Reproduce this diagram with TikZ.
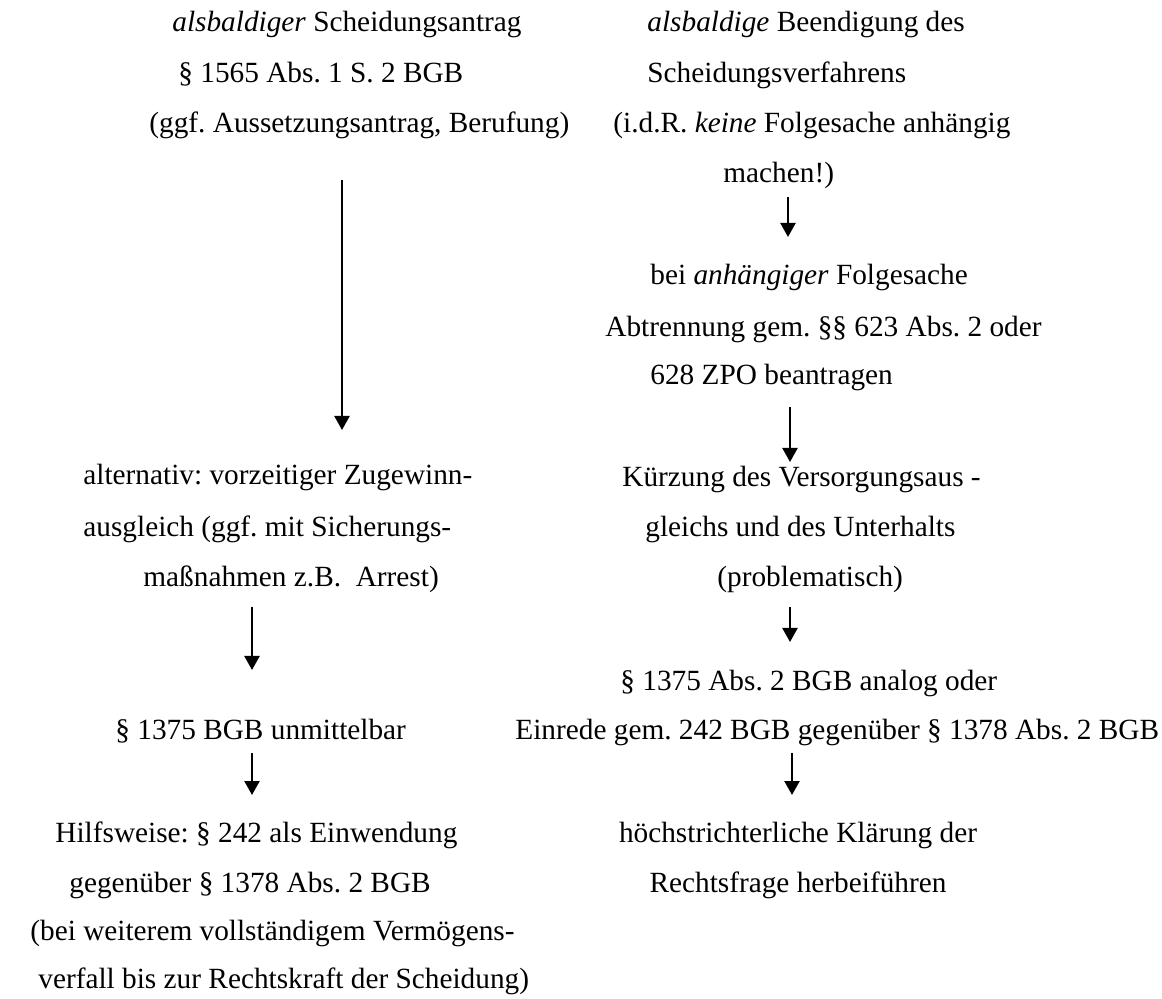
\documentclass[tikz,border=0pt]{standalone}
\usepackage{fontspec}
\setmainfont{Liberation Serif}
\usetikzlibrary{arrows.meta}
\frenchspacing

\begin{document}
\begin{tikzpicture}
	[x=0.5pt,y=-0.5pt,
	every node/.style={inner sep=0pt,anchor=base west,font=\fontsize{14.65}{17}\selectfont},
	mitte/.style={anchor=base},
	pfeil/.style={draw,line width=1.1pt,-{Triangle[width=7.5pt,length=7pt]}}]
	\useasboundingbox (0,0) rectangle (1162,999);
	\node (l1) at (172,32) {\textit{alsbaldiger} Scheidungsantrag};
	\node (l2) at (178,83) {\S{} 1565 Abs. 1 S. 2 BGB};
	\node (l3) at (149,133) {(ggf. Aussetzungsantrag, Berufung)};
	\node (l4) at (83,485) {alternativ: vorzeitiger Zugewinn-};
	\node (l5) at (83,537) {ausgleich (ggf. mit Sicherungs-};
	\node (l6) at (143,587) {maßnahmen z.B.\ \ Arrest)};
	\node (l7) at (115,740) {\S{} 1375 BGB unmittelbar};
	\node (l8) at (55,842) {Hilfsweise: \S{} 242 als Einwendung};
	\node (l9) at (69,892) {gegenüber \S{} 1378 Abs. 2 BGB};
	\node (l10) at (30,940) {(bei weiterem vollständigem Vermögens-};
	\node (l11) at (38,988) {verfall bis zur Rechtskraft der Scheidung)};
	\node (r1) at (647,32) {\textit{alsbaldige} Beendigung des};
	\node (r2) at (647,83) {Scheidungsverfahrens};
	\node (r3) at (613,133) {(i.d.R. \textit{keine} Folgesache anhängig};
	\node (r4) at (723,183) {machen!)};
	\node (r5) at (650,285) {bei \textit{anhängiger} Folgesache};
	\node (r6) at (605,337) {Abtrennung gem. \S\S{} 623 Abs. 2 oder};
	\node (r7) at (650,385) {628 ZPO beantragen};
	\node (r8) at (622,487) {Kürzung des Versorgungsaus -};
	\node (r9) at (645,537) {gleichs und des Unterhalts};
	\node (r10) at (717,587) {(problematisch)};
	\node (r11) at (620,690) {\S{} 1375 Abs. 2 BGB analog oder};
	\node (r12) at (515,740) {Einrede gem. 242 BGB gegenüber \S{} 1378 Abs. 2 BGB};
	\node[mitte] (r13) at (798,842) {höchstrichterliche Klärung der};
	\node[mitte] (r14) at (798,892) {Rechtsfrage herbeiführen};
	\coordinate (a1o) at (342,180);
	\coordinate (a1u) at (342,430);
	\coordinate (a2o) at (252,607);
	\coordinate (a2u) at (252,670);
	\coordinate (a3o) at (252,753);
	\coordinate (a3u) at (252,795);
	\coordinate (b1o) at (788,197);
	\coordinate (b1u) at (788,237);
	\coordinate (b2o) at (790,407);
	\coordinate (b2u) at (790,462);
	\coordinate (b3o) at (790,607);
	\coordinate (b3u) at (790,642);
	\coordinate (b4o) at (792,753);
	\coordinate (b4u) at (792,795);
	\draw[pfeil] (a1o) -- (a1u);
	\draw[pfeil] (a2o) -- (a2u);
	\draw[pfeil] (a3o) -- (a3u);
	\draw[pfeil] (b1o) -- (b1u);
	\draw[pfeil] (b2o) -- (b2u);
	\draw[pfeil] (b3o) -- (b3u);
	\draw[pfeil] (b4o) -- (b4u);
\end{tikzpicture}
\end{document}
